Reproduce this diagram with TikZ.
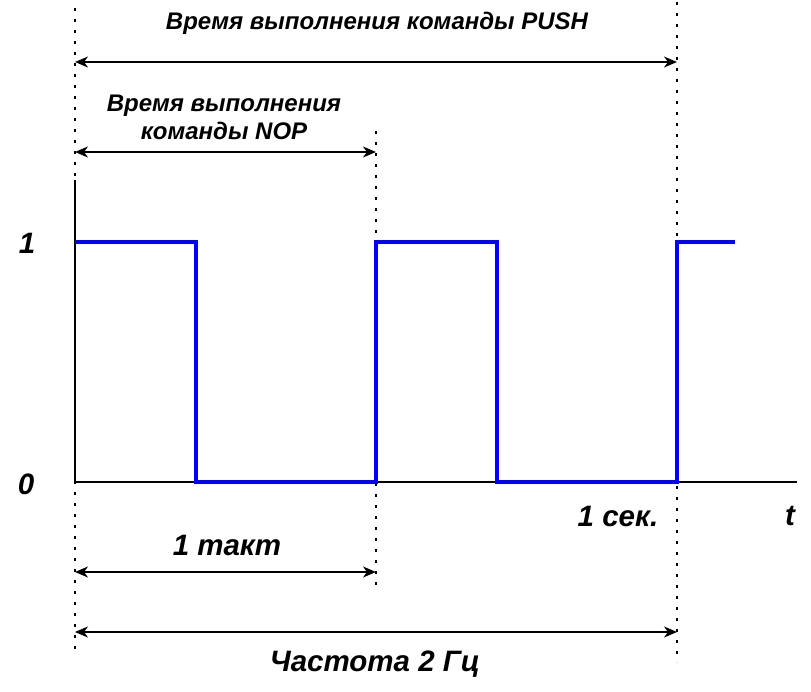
\documentclass[tikz,border=0pt]{standalone}
\usepackage{fontspec}
\setmainfont{Liberation Sans}
\usetikzlibrary{arrows.meta}
\tikzset{
  lbl/.style={font=\bfseries\itshape\fontsize{24}{28}\selectfont, inner sep=0pt, align=center},
  biglbl/.style={font=\bfseries\itshape\fontsize{29.5}{34}\selectfont, inner sep=0pt},
  guide/.style={line width=2.8pt, dash pattern=on 2.8pt off 8.2pt, black},
  dim/.style={line width=1.4pt, {Stealth[length=13pt,width=11pt,inset=4pt]}-{Stealth[length=13pt,width=11pt,inset=4pt]}},
  axis/.style={line width=1.4pt, black},
  wave/.style={line width=4.2pt, blue, line join=miter}
}
\begin{document}
\begin{tikzpicture}[x=1pt,y=-1pt]
\useasboundingbox (0,0) rectangle (811,692);
% guide line coordinates
\coordinate (gAt) at (75,8);
\coordinate (gAb) at (75,656);
\coordinate (gBt) at (376,131);
\coordinate (gBb) at (376,592);
\coordinate (gCt) at (677,2);
\coordinate (gCb) at (677,662);
\draw[guide] (gAt) -- (gAb);
\draw[guide] (gBt) -- (gBb);
\draw[guide] (gCt) -- (gCb);
% axes
\coordinate (ytop) at (75,180);
\coordinate (orig) at (75,482);
\coordinate (xend) at (797,482);
\draw[axis] (ytop) -- (orig) -- (xend);
% waveform
\draw[wave] (75,242) -- (196,242) -- (196,482) -- (376,482) -- (376,242) -- (497,242) -- (497,482) -- (677,482) -- (677,242) -- (735,242);
% axis labels
\node[biglbl] (one) at (27,243) {1};
\node[biglbl] (zero) at (26,484) {0};
\node[biglbl] (t) at (790,516) {t};
\node[biglbl] (sec) at (618,516) {1 сек.};
% dimension arrows
\coordinate (pushL) at (75,62);
\coordinate (pushR) at (677,62);
\draw[dim] (pushL) -- (pushR);
\node[lbl] (pushtxt) at (377,23) {Время выполнения команды PUSH};
\coordinate (nopL) at (75,152);
\coordinate (nopR) at (376,152);
\draw[dim] (nopL) -- (nopR);
\node[lbl] (noptxt) at (224,117) {Время выполнения\\команды NOP};
\coordinate (taktL) at (75,572);
\coordinate (taktR) at (376,572);
\draw[dim] (taktL) -- (taktR);
\node[biglbl] (takt) at (227,545) {1 такт};
\coordinate (freqL) at (75,632);
\coordinate (freqR) at (677,632);
\draw[dim] (freqL) -- (freqR);
\node[biglbl] (freq) at (375,664) {Частота 2 Гц};
\end{tikzpicture}
\end{document}
